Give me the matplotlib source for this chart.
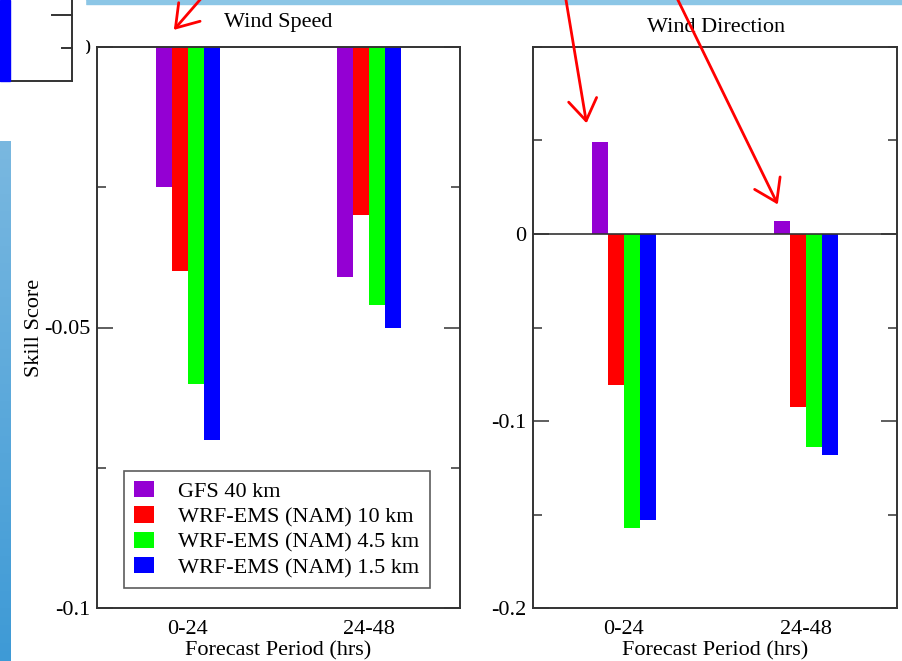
import numpy as np
import matplotlib
matplotlib.use("Agg")
import matplotlib.pyplot as plt
from matplotlib.patches import Rectangle, Patch, FancyArrowPatch
from matplotlib.lines import Line2D
from matplotlib.ticker import MultipleLocator

plt.rcParams['font.family'] = ['Liberation Serif', 'DejaVu Serif']

# ---- data -------------------------------------------------------------
periods = ['0-24', '24-48']
models = ['GFS 40 km', 'WRF-EMS (NAM) 10 km', 'WRF-EMS (NAM) 4.5 km', 'WRF-EMS (NAM) 1.5 km']
colors = ['#9400d3', '#ff0000', '#00ff00', '#0000ff']

speed_gfs40 = [-0.025, -0.041]
speed_wrf10 = [-0.040, -0.030]
speed_wrf45 = [-0.060, -0.046]
speed_wrf15 = [-0.070, -0.050]

dir_gfs40 = [0.049, 0.007]
dir_wrf10 = [-0.081, -0.0925]
dir_wrf45 = [-0.157, -0.114]
dir_wrf15 = [-0.153, -0.118]

speed_series = [speed_gfs40, speed_wrf10, speed_wrf45, speed_wrf15]
dir_series = [dir_gfs40, dir_wrf10, dir_wrf45, dir_wrf15]

# ---- figure -----------------------------------------------------------
W, H = 903, 661
fig = plt.figure(figsize=(W / 100, H / 100), dpi=100)
fig.patch.set_facecolor('white')


def fx(px):
    return px / W


def fy(py):
    return 1 - py / H


AX_DARK = '#333333'
FS = 16


def style_axes(ax, ylim, major, minor):
    ax.set_xlim(0.5, 2.5)
    ax.set_ylim(*ylim)
    for s in ax.spines.values():
        s.set_color(AX_DARK)
        s.set_linewidth(1.4)
    ax.yaxis.set_major_locator(MultipleLocator(major))
    ax.yaxis.set_minor_locator(MultipleLocator(minor))
    ax.tick_params(axis='y', which='both', direction='in', left=True, right=True,
                   color=AX_DARK, labelsize=FS, pad=5)
    ax.tick_params(axis='y', which='major', length=11.5, width=1.1)
    ax.tick_params(axis='y', which='minor', length=6.5, width=1.1)
    ax.set_xticks([1, 2])
    ax.set_xticklabels(periods)
    ax.tick_params(axis='x', length=0, labelsize=FS, pad=9)
    ax.set_xlabel('Forecast Period (hrs)', fontsize=FS, labelpad=1.5)


def draw_bars(ax, series):
    x = np.arange(1, len(periods) + 1)
    w = 0.088
    for i, (vals, c, lab) in enumerate(zip(series, colors, models)):
        ax.bar(x + (i - 1.5) * w, vals, width=w, color=c, edgecolor='none', label=lab, zorder=2)


# Wind speed panel
ax1 = fig.add_axes([fx(97), fy(608), fx(460) - fx(97), fy(47) - fy(608)])
draw_bars(ax1, speed_series)
style_axes(ax1, (-0.1, 0.0), 0.05, 0.025)
ax1.set_yticks([-0.1, -0.05, 0.0])
ax1.set_yticklabels(['-0.1', '-0.05', '0'])
ax1.set_ylabel('Skill Score', fontsize=FS, labelpad=0)

handles = [Patch(facecolor=c, edgecolor='none', label=m) for c, m in zip(colors, models)]
leg = ax1.legend(handles=handles, loc='lower left',
                 bbox_to_anchor=(fx(124), fy(588)), bbox_transform=fig.transFigure,
                 fontsize=FS, frameon=True, fancybox=False, borderaxespad=0,
                 handlelength=0.9, handleheight=0.75, handletextpad=1.1,
                 labelspacing=0.2, borderpad=0.45)
leg.get_frame().set_edgecolor(AX_DARK)
leg.get_frame().set_linewidth(1.2)

# Wind direction panel
ax2 = fig.add_axes([fx(533), fy(608), fx(897) - fx(533), fy(47) - fy(608)])
draw_bars(ax2, dir_series)
style_axes(ax2, (-0.2, 0.1), 0.1, 0.05)
ax2.set_yticks([-0.2, -0.1, 0.0])
ax2.set_yticklabels(['-0.2', '-0.1', '0'])
ax2.axhline(0, color=AX_DARK, linewidth=1.2, zorder=3)

fig.text(fx(278), fy(23), 'Wind Speed', fontsize=FS, ha='center', va='center')
fig.text(fx(716), fy(28), 'Wind Direction', fontsize=FS, ha='center', va='center')

# ---- slide decorations ------------------------------------------------
# top banner
fig.patches.append(Rectangle((fx(86), fy(4)), 1 - fx(86), fy(0) - fy(4),
                             transform=fig.transFigure, color='#8cc6e6', zorder=5))
# left gradient strip
strip = fig.add_axes([0, 0, fx(11), fy(141)], zorder=5)
grad = np.linspace(0, 1, 256).reshape(-1, 1)
strip.imshow(grad, aspect='auto', extent=(0, 1, 0, 1), origin='upper',
             cmap=matplotlib.colors.LinearSegmentedColormap.from_list('s', ['#7ab8e0', '#3e9ad6']))
strip.set_axis_off()

# neighbouring chart fragment in the top-left corner (covers most of the "0" label)
fig.patches.append(Rectangle((0, fy(88)), fx(85), 1 - fy(88),
                             transform=fig.transFigure, color='white', zorder=6))
fig.patches.append(Rectangle((0, fy(81)), fx(10), 1 - fy(81),
                             transform=fig.transFigure, color='#0000ff', zorder=7))
for (xa, ya, xb, yb) in [(72, 0, 72, 81), (0, 81, 72, 81), (52, 15, 72, 15), (62, 48, 72, 48)]:
    fig.lines.append(Line2D([fx(xa), fx(xb)], [fy(ya), fy(yb)], transform=fig.transFigure,
                            color=AX_DARK, linewidth=1.4, zorder=7))

# red call-out arrows
for (xa, ya, xb, yb) in [(205, -6, 172, 32), (565, -6, 587, 126), (675, -6, 779, 207)]:
    arr = FancyArrowPatch((fx(xa), fy(ya)), (fx(xb), fy(yb)), transform=fig.transFigure,
                          arrowstyle='->,head_length=9,head_width=6', color='#ff0000',
                          linewidth=2, mutation_scale=1.7, zorder=8)
    fig.patches.append(arr)

fig.savefig('out.png', dpi=100)
